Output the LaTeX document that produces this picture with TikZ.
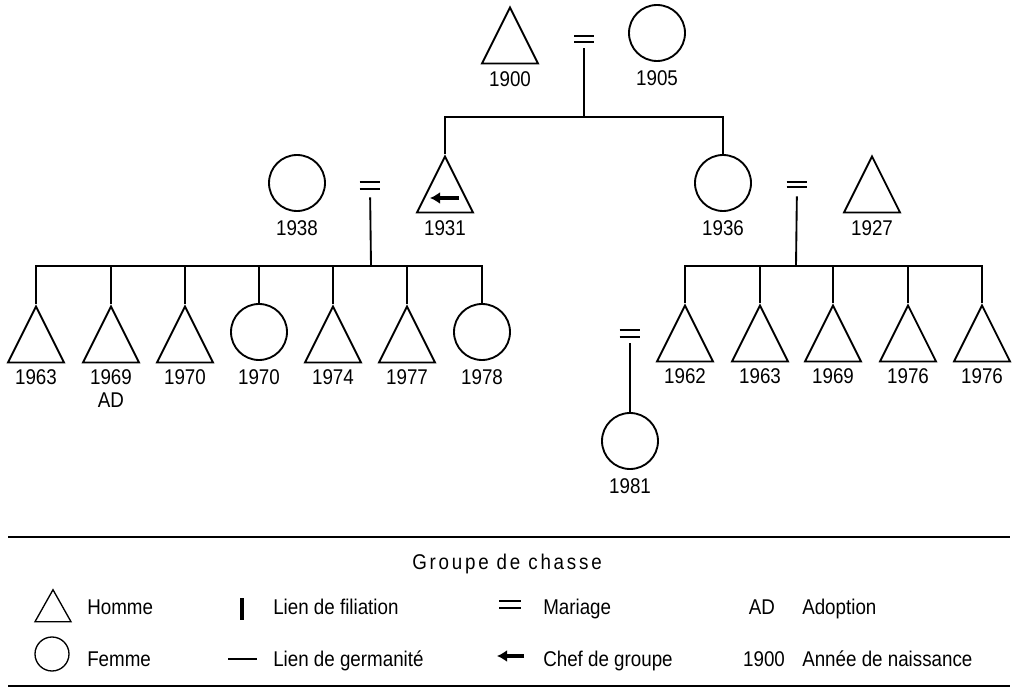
\documentclass[tikz,border=0pt]{standalone}
\usepackage{fontspec}
\setmainfont[FakeStretch=0.88]{Liberation Sans}
\usetikzlibrary{shapes.geometric,positioning,arrows.meta}

\tikzset{
  homme/.style={draw, isosceles triangle, isosceles triangle stretches, shape border rotate=90,
    minimum width=42pt, minimum height=42pt, inner sep=0pt, line width=1.4pt},
  femme/.style={draw, circle, minimum size=42pt, inner sep=0pt, line width=1.4pt},
  mariage/.style={minimum width=15pt, minimum height=5pt, inner sep=0pt,
    append after command={(\tikzlastnode.north west) edge[line width=1.5pt] (\tikzlastnode.north east)
      (\tikzlastnode.south west) edge[line width=1.5pt] (\tikzlastnode.south east)}},
  annee/.style={inner sep=0pt, text height=11.4pt, text depth=0pt, font=\fontsize{16}{16}\selectfont},
  lien/.style={line width=1.4pt},
  chef/.style={line width=2.3pt, -{Latex[length=7.5pt,width=9pt]}},
  legende/.style={anchor=base west, inner sep=0pt, font=\fontsize{16}{16}\selectfont}
}

\begin{document}
\begin{tikzpicture}[x=0.75pt,y=0.75pt,yscale=-1,xscale=1]
	\useasboundingbox (0,0) rectangle (1024,698);
	
	%Generation 1
	\node (p1900) [homme, anchor=apex] at (510,5) {};
	\node (m1905) [femme] at (657,33) {};
	\node (mar1) [mariage, minimum width=14.25pt, minimum height=4.5pt] at (584,39) {};
	\coordinate (g1) at (584,117);
	
	%Generation 2
	\node (e1938) [femme] at (297,183) {};
	\node (mar2) [mariage, minimum width=15pt, minimum height=5.25pt] at (370,185.5) {};
	\node (f1931) [homme, anchor=apex] at (445,154) {};
	\node (f1936) [femme] at (723,183) {};
	\node (mar3) [mariage, minimum width=15pt, minimum height=3.75pt] at (797,184.5) {};
	\node (e1927) [homme, anchor=apex] at (872,154) {};
	\coordinate (g2) at (371,266);
	\coordinate (g3) at (796,266);
	%Chef de groupe
	\draw [chef] (459,198) -- (430,198);
	
	%Generation 3, left
	\node (l1963) [homme, anchor=apex] at (36,304) {};
	\node (l1969) [homme, anchor=apex] at (111,304) {};
	\node (l1970) [homme, anchor=apex] at (185,304) {};
	\node (l1970f) [femme] at (259,332) {};
	\node (l1974) [homme, anchor=apex] at (333,304) {};
	\node (l1977) [homme, anchor=apex] at (407,304) {};
	\node (l1978) [femme] at (482,332) {};
	
	%Generation 3, right
	\node (r1962) [homme, anchor=apex] at (685,303) {};
	\node (r1963) [homme, anchor=apex] at (760,303) {};
	\node (r1969) [homme, anchor=apex] at (833,303) {};
	\node (r1976) [homme, anchor=apex] at (908,303) {};
	\node (r1976b) [homme, anchor=apex] at (982,303) {};
	\node (mar4) [mariage, minimum width=15pt, minimum height=5.25pt] at (630,333.5) {};
	\node (r1981) [femme] at (630,441) {};
	
	%Links
	\draw [lien, shorten <=4.5pt] (mar1) -- (g1);
	\draw [lien] (f1931.apex) |- (g1) -| (f1936.north);
	\draw [lien, shorten <=6pt] (mar2) -- (g2);
	\draw [lien, shorten <=6.75pt] (mar3) -- (g3);
	\draw [lien] (g2) -| (l1963.apex);
	\draw [lien] (g2) -| (l1969.apex);
	\draw [lien] (g2) -| (l1970.apex);
	\draw [lien] (g2) -| (l1970f.north);
	\draw [lien] (g2) -| (l1974.apex);
	\draw [lien] (g2) -| (l1977.apex);
	\draw [lien] (g2) -| (l1978.north);
	\draw [lien] (g3) -| (r1962.apex);
	\draw [lien] (g3) -| (r1963.apex);
	\draw [lien] (g3) -| (r1969.apex);
	\draw [lien] (g3) -| (r1976.apex);
	\draw [lien] (g3) -| (r1976b.apex);
	\draw [lien, shorten <=4.5pt] (mar4) -- (r1981);
	
	% Text Node
	\node (a1900) [annee, below=5pt of p1900] {1900};
	\node (a1905) [annee, below=6.2pt of m1905] {1905};
	\node (a1938) [annee, below=6.2pt of e1938] {1938};
	\node (a1931) [annee, below=5pt of f1931] {1931};
	\node (a1936) [annee, below=6.2pt of f1936] {1936};
	\node (a1927) [annee, below=5pt of e1927] {1927};
	\node (al1963) [annee, below=4.5pt of l1963] {1963};
	\node (al1969) [annee, below=4.5pt of l1969] {1969};
	\node (ad) [annee, below=5.3pt of al1969] {AD};
	\node (al1970) [annee, below=4.5pt of l1970] {1970};
	\node (al1970f) [annee, below=5.8pt of l1970f] {1970};
	\node (al1974) [annee, below=4.5pt of l1974] {1974};
	\node (al1977) [annee, below=4.5pt of l1977] {1977};
	\node (al1978) [annee, below=5.8pt of l1978] {1978};
	\node (ar1962) [annee, below=4.5pt of r1962] {1962};
	\node (ar1963) [annee, below=4.5pt of r1963] {1963};
	\node (ar1969) [annee, below=4.5pt of r1969] {1969};
	\node (ar1976) [annee, below=4.5pt of r1976] {1976};
	\node (ar1976b) [annee, below=4.5pt of r1976b] {1976};
	\node (ar1981) [annee, below=6.2pt of r1981] {1981};
	
	%Legend
	\draw [line width=1.5pt] (8,537) -- (1010,537);
	\draw [line width=1.5pt] (8,686) -- (1010,686);
	\node (titre) [legende, anchor=base] at (507,569) {\addfontfeature{LetterSpace=13}Groupe de chasse};
	\node (sh) [homme, minimum width=27pt, minimum height=24pt, line width=1pt, anchor=apex] at (53,588) {};
	\node (sf) [femme, minimum size=25.5pt, line width=1pt] at (52,654) {};
	\node (th) [legende] at (87,614) {Homme};
	\node (tf) [legende] at (87,666) {Femme};
	\draw [line width=2.4pt] (242,598) -- (242,620);
	\draw [line width=1.2pt] (228,659) -- (257,659);
	\node (tfil) [legende] at (273,614) {Lien de filiation};
	\node (tger) [legende] at (273,666) {Lien de germanité};
	\node (sm) [mariage, minimum width=15.75pt, minimum height=5pt] at (510,604.5) {};
	\draw [chef] (524,656) -- (497,656);
	\node (tmar) [legende] at (543,614) {Mariage};
	\node (tchef) [legende] at (543,666) {Chef de groupe};
	\node (sad) [legende, anchor=base] at (762,614) {AD};
	\node (san) [legende, anchor=base] at (764,666) {1900};
	\node (tad) [legende] at (802,614) {Adoption};
	\node (tan) [legende] at (802,666) {Année de naissance};
	
\end{tikzpicture}
\end{document}
